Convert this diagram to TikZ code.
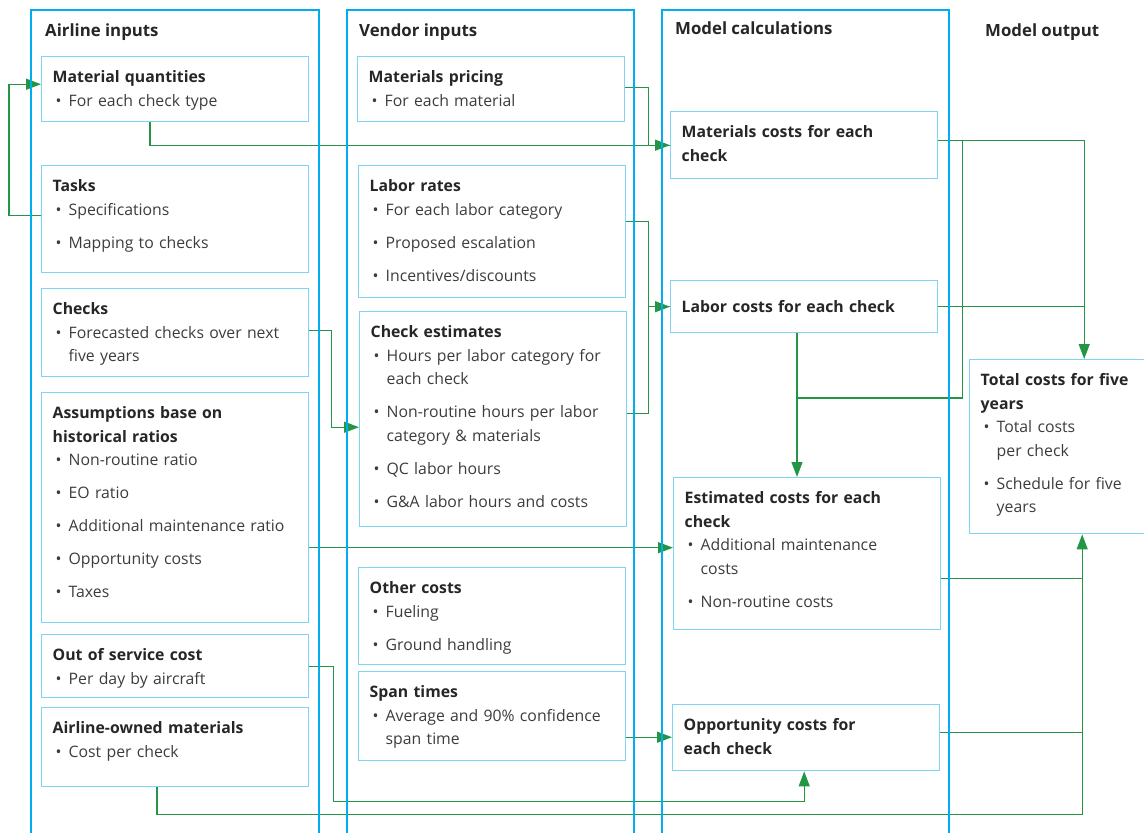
\documentclass[tikz,border=0pt]{standalone}
\usepackage{fontspec}
\setmainfont{Open Sans}
\usetikzlibrary{arrows.meta, positioning, calc}

\definecolor{colblue}{RGB}{0,174,239}
\definecolor{boxblue}{RGB}{125,212,245}
\definecolor{flowgreen}{RGB}{35,150,70}
\definecolor{inktext}{RGB}{60,60,60}

% heading line and bullet line inside a box
\newcommand{\hd}[1]{{\bfseries\color{black!85}#1}}
\newcommand{\itm}[2][9.5pt]{\par\vspace{#1}\hangindent=16pt\hangafter=1\noindent
  \makebox[16pt][l]{\hspace{3pt}\textbullet}#2\par}

\begin{document}
\begin{tikzpicture}[
  x=1pt, y=-1pt,
  %--- frames and boxes ---
  colframe/.style={draw=colblue, line width=2.8pt},
  colhead/.style={anchor=base west, inner sep=0pt, text=black!85,
    font=\fontsize{16.8}{20}\selectfont\bfseries},
  box/.style={
    draw=boxblue, line width=1.4pt, anchor=north west,
    inner xsep=11pt, inner ysep=14pt, text width=245pt,
    align=left, text height=12pt, text=inktext,
    font=\fontsize{15.8}{23.5}\selectfont
  },
  %--- connectors ---
  flow/.style={draw=flowgreen, line width=1.3pt,
    -{Triangle[length=15pt,width=11pt]}},
  flowline/.style={draw=flowgreen, line width=1.3pt}
]

\useasboundingbox (0,0) rectangle (1144,833);

%------------------------------------------------------------------
%  Column headings
%------------------------------------------------------------------
\node[colhead] (hdair)  at (45,36)  {Airline inputs};
\node[colhead] (hdven)  at (359,36) {Vendor inputs};
\node[colhead] (hdcalc) at (675,34) {Model calculations};
\node[colhead] (hdout)  at (985,36) {Model output};

%------------------------------------------------------------------
%  Airline inputs
%------------------------------------------------------------------
\node[box, text depth=25pt]  (matq)   at (41,56)
  {\hd{Material quantities}\itm[0pt]{For each check type}};
\node[box, text depth=67pt]  (tasks)  at (41,165)
  {\hd{Tasks}\itm[0pt]{Specifications}\itm{Mapping to checks}};
\node[box, text depth=48pt]  (checks) at (41,288)
  {\hd{Checks}\itm[0pt]{Forecasted checks over next\newline five years}};
\node[box, text depth=190pt] (assump) at (41,392)
  {\hd{Assumptions base on\\historical ratios}\itm[0pt]{Non-routine ratio}%
   \itm{EO ratio}\itm{Additional maintenance ratio}%
   \itm{Opportunity costs}\itm{Taxes}};
\node[box, text depth=23pt]  (oos)    at (41,634)
  {\hd{Out of service cost}\itm[0pt]{Per day by aircraft}};
\node[box, text depth=39pt]  (ownmat) at (41,707)
  {\hd{Airline-owned materials}\itm[0pt]{Cost per check}};

%------------------------------------------------------------------
%  Vendor inputs
%------------------------------------------------------------------
\node[box, text depth=25pt]  (matpr)   at (357,56)
  {\hd{Materials pricing}\itm[0pt]{For each material}};
\node[box, text depth=92pt]  (labrate) at (358,165)
  {\hd{Labor rates}\itm[0pt]{For each labor category}%
   \itm{Proposed escalation}\itm{Incentives/discounts}};
\node[box, text depth=175pt] (chkest)  at (359,311)
  {\hd{Check estimates}\itm[0pt]{Hours per labor category for\newline each check}%
   \itm{Non-routine hours per labor\newline category \& materials}%
   \itm{QC labor hours}\itm{G\&A labor hours and costs}};
\node[box, text depth=57pt]  (other)   at (358,567)
  {\hd{Other costs}\itm[0pt]{Fueling}\itm{Ground handling}};
\node[box, text depth=49pt]  (span)    at (358,671)
  {\hd{Span times}\itm[0pt]{Average and 90\% confidence\newline span time}};

%------------------------------------------------------------------
%  Model calculations
%------------------------------------------------------------------
\node[box, text depth=27pt]  (matcost) at (670,111)
  {\hd{Materials costs for each\\check}};
\node[box, text height=18pt, text depth=6pt] (labcost) at (670,280)
  {\hd{Labor costs for each check}};
\node[box, text depth=112pt] (estcost) at (673,477)
  {\hd{Estimated costs for each\\check}\itm[0pt]{Additional maintenance\newline costs}%
   \itm{Non-routine costs}};
\node[box, text depth=26pt]  (oppcost) at (672,704)
  {\hd{Opportunity costs for\\each check}};

%------------------------------------------------------------------
%  Model output
%------------------------------------------------------------------
\node[box, text width=159pt, text depth=134pt] (total) at (969,359)
  {\hd{Total costs for five\\years}\itm[0pt]{Total costs\newline per check}%
   \itm{Schedule for five\newline years}};

%------------------------------------------------------------------
%  Connectors into the calculations
%------------------------------------------------------------------
\draw[flow] ([yshift=4pt]tasks.west) -- ++(-32,0) |- ([yshift=5pt]matq.west);
\draw[flow] (matq.south west) ++(109,0) |- (matcost.west);
\draw[flowline] ([yshift=2pt]matpr.east) -- ++(23,0) |- (matcost.west);

\draw[flow] ([yshift=10pt]labrate.east) -- ++(22,0) |- (labcost.west);
\draw[flowline] ([yshift=6pt]chkest.east) -- ++(21,0) |- (labcost.west);
\draw[flow] ([yshift=2pt]checks.east) -- ++(22,0) |- ([yshift=-8pt]chkest.west);

\coordinate (joint) at (797,398);
\draw[flow] (labcost.south -| joint) -- (joint |- estcost.north);
\draw[flowline] ([yshift=5pt]matcost.east) -- ++(24,0) |- (joint);

\draw[flow] ([yshift=-40pt]assump.east) coordinate (aa) -- (aa -| estcost.west);
\draw[flow] ([yshift=-21pt]span.east) coordinate (sp) -- (sp -| oppcost.west);
\draw[flow] (oos.east) -- ++(24,0) |- ([xshift=-2pt,yshift=-30pt]oppcost.south)
  -- ([xshift=-2pt]oppcost.south);

%------------------------------------------------------------------
%  Connectors into the output
%------------------------------------------------------------------
\draw[flow] ([yshift=5pt]matcost.east) -| ([xshift=24pt]total.north);
\draw[flowline] (labcost.east) -- ++(147,0);
\draw[flowline] ([yshift=-25pt]estcost.east) -- ++(142,0);
\draw[flowline] ([yshift=5pt]oppcost.east) -- ++(143,0);
\draw[flow] (ownmat.south west) ++(116,0) |- ([xshift=22pt,yshift=-280pt]total.south)
  -- ([xshift=22pt]total.south);

%------------------------------------------------------------------
%  Column frames (open at the bottom)
%------------------------------------------------------------------
\draw[colframe] (31,870) |- (319,10) -- (319,870);
\draw[colframe] (347,870) |- (634,10) -- (634,870);
\draw[colframe] (662,870) |- (949,10) -- (949,870);

\end{tikzpicture}
\end{document}
